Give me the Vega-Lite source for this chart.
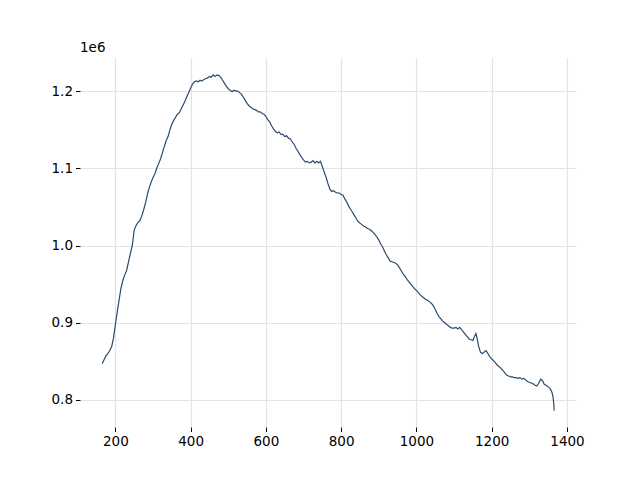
{
  "$schema": "https://vega.github.io/schema/vega-lite/v6.json",
  "width": 496,
  "height": 369,
  "autosize": "none",
  "padding": {"left": 80, "top": 58, "right": 64, "bottom": 53},
  "background": "white",
  "title": {"text": "1e6", "anchor": "start", "frame": "group", "fontSize": 13.5, "fontWeight": "normal", "font": "DejaVu Sans", "color": "#000000", "offset": 4},
  "config": {"view": {"stroke": null}},
  "data": {"values": [
    {"x":165,"y":847000},{"x":170,"y":852000},{"x":175,"y":857000},{"x":180,"y":860000},{"x":185,"y":864000},
    {"x":190,"y":869000},{"x":195,"y":880000},{"x":200,"y":898000},{"x":205,"y":914000},{"x":210,"y":930000},
    {"x":215,"y":945000},{"x":220,"y":955000},{"x":225,"y":962000},{"x":230,"y":968000},{"x":235,"y":979000},
    {"x":240,"y":990000},{"x":245,"y":1000000},{"x":250,"y":1020000},{"x":255,"y":1026000},{"x":260,"y":1030000},
    {"x":265,"y":1032000},{"x":270,"y":1038000},{"x":275,"y":1046000},{"x":280,"y":1055000},{"x":285,"y":1066000},
    {"x":290,"y":1075000},{"x":295,"y":1082000},{"x":300,"y":1088000},{"x":305,"y":1093000},{"x":310,"y":1100000},
    {"x":315,"y":1106000},{"x":320,"y":1112000},{"x":325,"y":1120000},{"x":330,"y":1128000},{"x":335,"y":1136000},
    {"x":340,"y":1141000},{"x":345,"y":1150000},{"x":350,"y":1157000},{"x":355,"y":1162000},{"x":360,"y":1166000},
    {"x":365,"y":1170000},{"x":370,"y":1172000},{"x":375,"y":1177000},{"x":380,"y":1182000},{"x":385,"y":1187000},
    {"x":390,"y":1193000},{"x":395,"y":1198000},{"x":400,"y":1204000},{"x":405,"y":1209000},{"x":410,"y":1212000},
    {"x":415,"y":1213000},{"x":420,"y":1212000},{"x":425,"y":1214000},{"x":430,"y":1213000},{"x":435,"y":1215000},
    {"x":440,"y":1216000},{"x":445,"y":1217000},{"x":450,"y":1219000},{"x":455,"y":1218000},{"x":460,"y":1221000},
    {"x":465,"y":1219000},{"x":470,"y":1221000},{"x":475,"y":1220000},{"x":480,"y":1218000},{"x":485,"y":1214000},
    {"x":490,"y":1210000},{"x":495,"y":1206000},{"x":500,"y":1203000},{"x":505,"y":1201000},{"x":510,"y":1199000},
    {"x":515,"y":1201000},{"x":520,"y":1200000},{"x":525,"y":1200000},{"x":530,"y":1198000},{"x":535,"y":1196000},
    {"x":540,"y":1192000},{"x":545,"y":1188000},{"x":550,"y":1184000},{"x":555,"y":1181000},{"x":560,"y":1179000},
    {"x":565,"y":1177000},{"x":570,"y":1176000},{"x":575,"y":1175000},{"x":580,"y":1173000},{"x":585,"y":1173000},
    {"x":590,"y":1171000},{"x":595,"y":1170000},{"x":600,"y":1167000},{"x":605,"y":1163000},{"x":610,"y":1160000},
    {"x":615,"y":1155000},{"x":620,"y":1151000},{"x":625,"y":1148000},{"x":630,"y":1146000},{"x":635,"y":1147000},
    {"x":640,"y":1144000},{"x":645,"y":1144000},{"x":650,"y":1141000},{"x":655,"y":1142000},{"x":660,"y":1139000},
    {"x":665,"y":1138000},{"x":670,"y":1134000},{"x":675,"y":1131000},{"x":680,"y":1126000},{"x":685,"y":1122000},
    {"x":690,"y":1118000},{"x":695,"y":1114000},{"x":700,"y":1111000},{"x":705,"y":1108000},{"x":710,"y":1109000},
    {"x":715,"y":1107000},{"x":720,"y":1108000},{"x":725,"y":1110000},{"x":730,"y":1107000},{"x":735,"y":1109000},
    {"x":740,"y":1107000},{"x":745,"y":1109000},{"x":750,"y":1102000},{"x":755,"y":1095000},{"x":760,"y":1088000},
    {"x":765,"y":1080000},{"x":770,"y":1073000},{"x":775,"y":1070000},{"x":780,"y":1071000},{"x":785,"y":1069000},
    {"x":790,"y":1068000},{"x":795,"y":1068000},{"x":800,"y":1066000},{"x":805,"y":1065000},{"x":810,"y":1060000},
    {"x":815,"y":1056000},{"x":820,"y":1051000},{"x":825,"y":1047000},{"x":830,"y":1043000},{"x":835,"y":1039000},
    {"x":840,"y":1035000},{"x":845,"y":1031000},{"x":850,"y":1029000},{"x":855,"y":1027000},{"x":860,"y":1025000},
    {"x":865,"y":1024000},{"x":870,"y":1022000},{"x":875,"y":1021000},{"x":880,"y":1019000},{"x":885,"y":1017000},
    {"x":890,"y":1014000},{"x":895,"y":1011000},{"x":900,"y":1007000},{"x":905,"y":1002000},{"x":910,"y":998000},
    {"x":915,"y":993000},{"x":920,"y":988000},{"x":925,"y":984000},{"x":930,"y":980000},{"x":935,"y":979000},
    {"x":940,"y":978000},{"x":945,"y":977000},{"x":950,"y":975000},{"x":955,"y":971000},{"x":960,"y":967000},
    {"x":965,"y":963000},{"x":970,"y":960000},{"x":975,"y":956000},{"x":980,"y":953000},{"x":985,"y":950000},
    {"x":990,"y":947000},{"x":995,"y":944000},{"x":1000,"y":942000},{"x":1005,"y":939000},{"x":1010,"y":936000},
    {"x":1015,"y":934000},{"x":1020,"y":932000},{"x":1025,"y":930000},{"x":1030,"y":929000},{"x":1035,"y":927000},
    {"x":1040,"y":925000},{"x":1045,"y":922000},{"x":1050,"y":917000},{"x":1055,"y":912000},{"x":1060,"y":908000},
    {"x":1065,"y":905000},{"x":1070,"y":902000},{"x":1075,"y":900000},{"x":1080,"y":898000},{"x":1085,"y":896000},
    {"x":1090,"y":894000},{"x":1095,"y":893000},{"x":1100,"y":893000},{"x":1105,"y":894000},{"x":1110,"y":892000},
    {"x":1115,"y":894000},{"x":1120,"y":891000},{"x":1125,"y":888000},{"x":1130,"y":885000},{"x":1135,"y":882000},
    {"x":1140,"y":879000},{"x":1145,"y":878000},{"x":1150,"y":877000},{"x":1155,"y":883000},{"x":1158,"y":886000},
    {"x":1162,"y":878000},{"x":1165,"y":870000},{"x":1170,"y":862000},{"x":1175,"y":860000},{"x":1180,"y":862000},
    {"x":1185,"y":864000},{"x":1190,"y":860000},{"x":1195,"y":856000},{"x":1200,"y":853000},{"x":1205,"y":851000},
    {"x":1210,"y":848000},{"x":1215,"y":845000},{"x":1220,"y":843000},{"x":1225,"y":841000},{"x":1230,"y":838000},
    {"x":1235,"y":835000},{"x":1240,"y":832000},{"x":1245,"y":831000},{"x":1250,"y":830000},{"x":1255,"y":830000},
    {"x":1260,"y":829000},{"x":1265,"y":829000},{"x":1270,"y":828000},{"x":1275,"y":829000},{"x":1280,"y":827000},
    {"x":1285,"y":828000},{"x":1290,"y":826000},{"x":1295,"y":824000},{"x":1300,"y":823000},{"x":1305,"y":822000},
    {"x":1310,"y":821000},{"x":1315,"y":819000},{"x":1320,"y":818000},{"x":1325,"y":822000},{"x":1330,"y":827000},
    {"x":1335,"y":825000},{"x":1340,"y":820000},{"x":1345,"y":819000},{"x":1350,"y":817000},{"x":1355,"y":815000},
    {"x":1360,"y":810000},{"x":1363,"y":804000},{"x":1365,"y":795000},{"x":1366,"y":786000}
  ]},
  "mark": {"type": "line", "color": "#2b4a6f", "strokeWidth": 1.2, "clip": true},
  "encoding": {
    "x": {
      "field": "x", "type": "quantitative",
      "scale": {"domain": [106, 1424], "nice": false, "zero": false},
      "axis": {
        "title": null, "domain": false, "values": [200, 400, 600, 800, 1000, 1200, 1400],
        "grid": true, "gridColor": "#e3e3e3", "gridWidth": 1.2,
        "ticks": true, "tickColor": "#000000", "tickSize": 4.5, "tickWidth": 1,
        "labelFont": "DejaVu Sans", "labelFontSize": 13.5, "labelColor": "#000000", "labelPadding": 3, "format": "d"
      }
    },
    "y": {
      "field": "y", "type": "quantitative",
      "scale": {"domain": [765000, 1242800], "nice": false, "zero": false},
      "axis": {
        "title": null, "domain": false, "values": [800000, 900000, 1000000, 1100000, 1200000],
        "grid": true, "gridColor": "#e3e3e3", "gridWidth": 1.2,
        "ticks": true, "tickColor": "#000000", "tickSize": 4.5, "tickWidth": 1,
        "labelFont": "DejaVu Sans", "labelFontSize": 13.5, "labelColor": "#000000", "labelPadding": 3,
        "labelExpr": "format(datum.value / 1000000, '.1f')"
      }
    }
  }
}
